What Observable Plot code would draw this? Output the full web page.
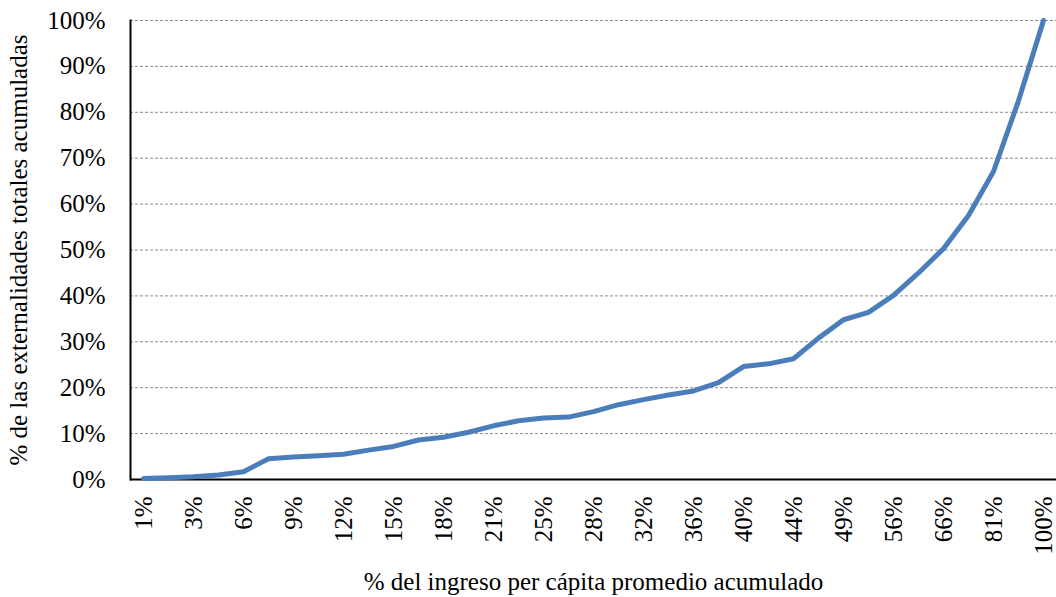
<!DOCTYPE html>
<html>
<head>
<meta charset="utf-8">
<script src="https://cdn.jsdelivr.net/npm/d3@7"></script>
<script src="https://cdn.jsdelivr.net/npm/@observablehq/plot@0.6"></script>
<style>
  html, body { margin: 0; padding: 0; background: #fff; }
  #chart svg { display: block; }
</style>
</head>
<body>
<div id="chart"></div>
<script>
// Categories: % del ingreso per cápita promedio acumulado
const categories = ["1%","2%","3%","5%","6%","7%","9%","10%","12%","13%","15%","16%","18%","20%","21%","23%","25%","26%","28%","30%","32%","34%","36%","38%","40%","42%","44%","47%","49%","52%","56%","61%","66%","73%","81%","90%","100%"];
// % de las externalidades totales acumuladas
const values = [0.2,0.4,0.6,1.0,1.7,4.5,4.9,5.2,5.5,6.4,7.2,8.6,9.2,10.3,11.7,12.8,13.4,13.6,14.8,16.3,17.4,18.4,19.3,21.1,24.6,25.2,26.3,30.8,34.8,36.4,40.1,45.0,50.3,57.5,67.1,82.5,100];
// Labeled x ticks (every other category)
const xTickLabels = ["1%","3%","6%","9%","12%","15%","18%","21%","25%","28%","32%","36%","40%","44%","49%","56%","66%","81%","100%"];
const yTicks = [0,10,20,30,40,50,60,70,80,90,100];
const xTitle = "% del ingreso per cápita promedio acumulado";
const yTitle = "% de las externalidades totales acumuladas";

const data = categories.map((c, i) => ({cat: c, val: values[i]}));

const chart = Plot.plot({
  width: 1056,
  height: 597,
  marginLeft: 130,
  marginRight: 0,
  marginTop: 20,
  marginBottom: 118,
  style: {fontFamily: "'Liberation Serif', 'Times New Roman', serif", fontSize: "25px", color: "#000", background: "#fff"},
  x: {type: "point", domain: categories, padding: 0.5},
  y: {domain: [0, 100]},
  marks: [
    Plot.ruleY(yTicks.filter(d => d > 0), {stroke: "#8c8c8c", strokeWidth: 1, strokeDasharray: "3,2"}),
    Plot.axisY({ticks: yTicks, tickSize: 0, tickPadding: 25, tickFormat: d => d + "%", fontSize: 25,
      label: yTitle, labelAnchor: "center", labelOffset: 121, labelArrow: "none"}),
    Plot.axisX({ticks: xTickLabels, tickSize: 0, tickRotate: -90, tickPadding: 17, fontSize: 25,
      label: xTitle, labelAnchor: "center", labelOffset: 110, labelArrow: "none"}),
    Plot.frame({anchor: "left", stroke: "#000", strokeWidth: 2}),
    Plot.ruleY([0], {stroke: "#000", strokeWidth: 2}),
    Plot.lineY(data, {x: "cat", y: "val", stroke: "#4a7ebb", strokeWidth: 5, strokeLinejoin: "miter"})
  ]
});
document.getElementById("chart").appendChild(chart);
</script>
</body>
</html>
